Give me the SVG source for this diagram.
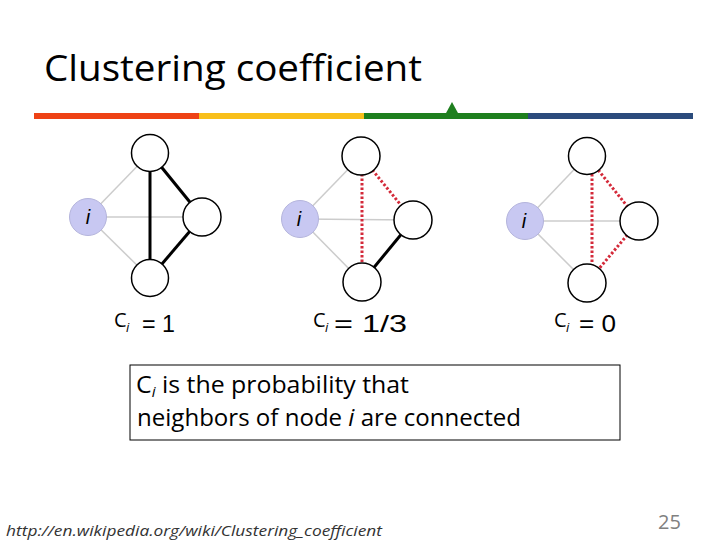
<svg xmlns="http://www.w3.org/2000/svg" width="728" height="546" viewBox="0 0 728 546">
<style>
.t{font-family:"Open Sans","Noto Sans","Liberation Sans",sans-serif;fill:#000}
.a{font-family:"Liberation Sans",Arial,sans-serif;fill:#000}
.g{stroke:#cccccc;stroke-width:1.5;fill:none}
.k{stroke:#000;stroke-width:3;fill:none}
.r{stroke:#d42a3a;stroke-width:3;stroke-dasharray:2.5 2;fill:none}
.n{fill:#fff;stroke:#000;stroke-width:1.5}
.ni{fill:#c8c8f2;stroke:#b4b4dc;stroke-width:1}
.il{font-family:"Liberation Sans",Arial,sans-serif;font-style:italic;font-size:20px;fill:#000;text-anchor:middle}
</style>
<rect width="728" height="546" fill="#fff"/>
<g id="title">
<text class="t" x="44" y="81" font-size="37" textLength="378" lengthAdjust="spacingAndGlyphs">Clustering coefficient</text>
</g>
<g id="bar">
<rect x="34" y="113" width="165" height="6" fill="#ee4215"/>
<rect x="199" y="113" width="165" height="6" fill="#f8bf1a"/>
<rect x="364" y="113" width="164" height="6" fill="#1e7f1e"/>
<rect x="528" y="113" width="165" height="6" fill="#2b4b7c"/>
<polygon points="452,102 445.5,114 458.5,114" fill="#1e7f1e"/>
</g>
<g id="connectors">
<line class="g" x1="88" y1="217" x2="150" y2="153"/>
<line class="g" x1="88" y1="217" x2="202" y2="217"/>
<line class="g" x1="88" y1="217" x2="150" y2="278"/>
<line class="k" x1="150" y1="153" x2="150" y2="278"/>
<line class="k" x1="150" y1="153" x2="202" y2="217"/>
<line class="k" x1="202" y1="217" x2="150" y2="278"/>
<line class="g" x1="300" y1="219" x2="361" y2="156"/>
<line class="g" x1="300" y1="219" x2="413" y2="220"/>
<line class="g" x1="300" y1="219" x2="362" y2="282"/>
<line class="r" x1="362" y1="156" x2="362" y2="282"/>
<line class="r" x1="361" y1="156" x2="413" y2="220"/>
<line class="k" x1="413" y1="220" x2="362" y2="282"/>
<line class="g" x1="525" y1="221" x2="587" y2="156"/>
<line class="g" x1="525" y1="221" x2="639" y2="221"/>
<line class="g" x1="525" y1="221" x2="587" y2="283"/>
<line class="r" x1="592" y1="156" x2="592" y2="283"/>
<line class="r" x1="587" y1="156" x2="639" y2="221"/>
<line class="r" x1="639" y1="221" x2="587" y2="283"/>
</g>
<g id="g1-i"><circle class="ni" cx="88" cy="217" r="18.5"/><text class="il" x="88" y="224">i</text></g>
<g id="g1-top"><circle class="n" cx="150" cy="153" r="18.5"/></g>
<g id="g1-right"><circle class="n" cx="202" cy="217" r="19"/></g>
<g id="g1-bottom"><circle class="n" cx="150" cy="278" r="18.5"/></g>
<g id="g2-i"><circle class="ni" cx="300" cy="219" r="18.5"/><text class="il" x="299" y="226">i</text></g>
<g id="g2-top"><circle class="n" cx="361" cy="156" r="19"/></g>
<g id="g2-right"><circle class="n" cx="413" cy="220" r="19"/></g>
<g id="g2-bottom"><circle class="n" cx="362" cy="282" r="19"/></g>
<g id="g3-i"><circle class="ni" cx="525" cy="221" r="18.5"/><text class="il" x="524" y="228">i</text></g>
<g id="g3-top"><circle class="n" cx="587" cy="156" r="18.5"/></g>
<g id="g3-right"><circle class="n" cx="639" cy="221" r="19"/></g>
<g id="g3-bottom"><circle class="n" cx="587" cy="283" r="19"/></g>
<g id="label1">
<text class="t" x="114" y="327" font-size="20">C</text>
<text class="t" x="126" y="332" font-size="13" font-style="italic">i</text>
<text class="a" x="142" y="332" font-size="24" textLength="33" lengthAdjust="spacingAndGlyphs">= 1</text>
</g>
<g id="label2">
<text class="t" x="313" y="327" font-size="20">C</text>
<text class="t" x="325" y="332" font-size="13" font-style="italic">i</text>
<text class="a" x="334" y="332" font-size="24" textLength="73" lengthAdjust="spacingAndGlyphs">= 1/3</text>
</g>
<g id="label3">
<text class="t" x="554" y="327" font-size="20">C</text>
<text class="t" x="566" y="332" font-size="13" font-style="italic">i</text>
<text class="a" x="579" y="332" font-size="24" textLength="37" lengthAdjust="spacingAndGlyphs">= 0</text>
</g>
<g id="definition">
<rect x="130" y="365" width="490" height="75" fill="#fff" stroke="#000" stroke-width="1"/>
<text class="t" x="136" y="393" font-size="23" textLength="273" lengthAdjust="spacingAndGlyphs">C<tspan font-size="14" font-style="italic" dy="4">i</tspan><tspan dy="-4"> is the probability that</tspan></text>
<text class="t" x="137" y="426" font-size="23" textLength="384" lengthAdjust="spacingAndGlyphs">neighbors of node <tspan font-style="italic">i</tspan> are connected</text>
</g>
<g id="footer">
<text class="t" x="6" y="536" font-size="15" font-style="italic" style="fill:#333" textLength="376" lengthAdjust="spacingAndGlyphs">http://en.wikipedia.org/wiki/Clustering_coefficient</text>
<text class="t" x="658" y="529" font-size="20" style="fill:#808080">25</text>
</g>
</svg>
